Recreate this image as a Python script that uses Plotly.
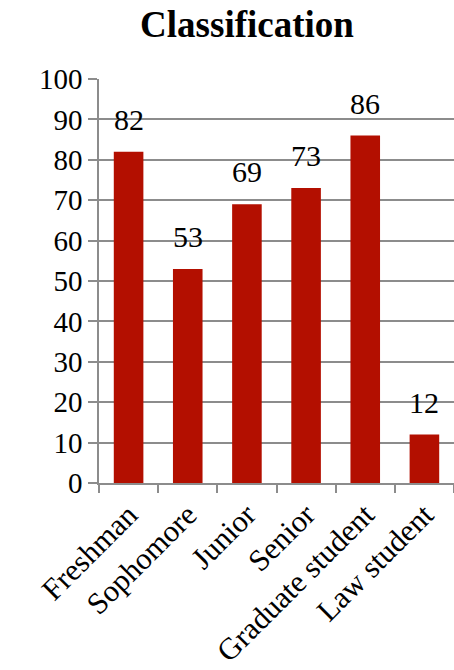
import plotly.graph_objects as go

categories = ["Freshman", "Sophomore", "Junior", "Senior", "Graduate student", "Law student"]
values = [82, 53, 69, 73, 86, 12]
y_ticks = list(range(0, 101, 10))

BAR = "#B30F00"
GRID = "#8C8C8C"
FONT = "Liberation Serif"

fig = go.Figure()
fig.add_trace(go.Bar(x=categories, y=values, marker=dict(color=BAR, line=dict(width=0)), width=0.5))

for c, v in zip(categories, values):
    fig.add_annotation(x=c, y=v, text=str(v), showarrow=False, yanchor="bottom",
                       yshift=14, font=dict(family=FONT, size=30, color="black"))

fig.update_layout(
    width=454, height=670,
    margin=dict(l=99, r=0, t=79, b=187, autoexpand=False),
    paper_bgcolor="white", plot_bgcolor="white",
    title=dict(text="Classification", xref="container", x=0.544, xanchor="center",
               yref="container", y=1 - 24 / 670, yanchor="middle",
               font=dict(family=FONT, size=37, color="black", weight="bold")),
    showlegend=False,
    bargap=0.5,
)
fig.update_yaxes(range=[0, 100], tickvals=y_ticks, showgrid=True, gridcolor=GRID, gridwidth=1.5,
                 showline=True, linecolor=GRID, linewidth=1.5, ticks="outside", ticklen=9,
                 tickcolor=GRID, tickwidth=1.5, zeroline=False, automargin=False,
                 tickfont=dict(family=FONT, size=29, color="black"))
fig.update_xaxes(showline=True, linecolor=GRID, linewidth=1.5, ticks="outside", ticklen=8,
                 tickcolor=GRID, tickwidth=1.5, tickson="boundaries", tickangle=-45,
                 automargin=False,
                 tickfont=dict(family=FONT, size=30.5, color="black"))

fig.write_html("out.html")
